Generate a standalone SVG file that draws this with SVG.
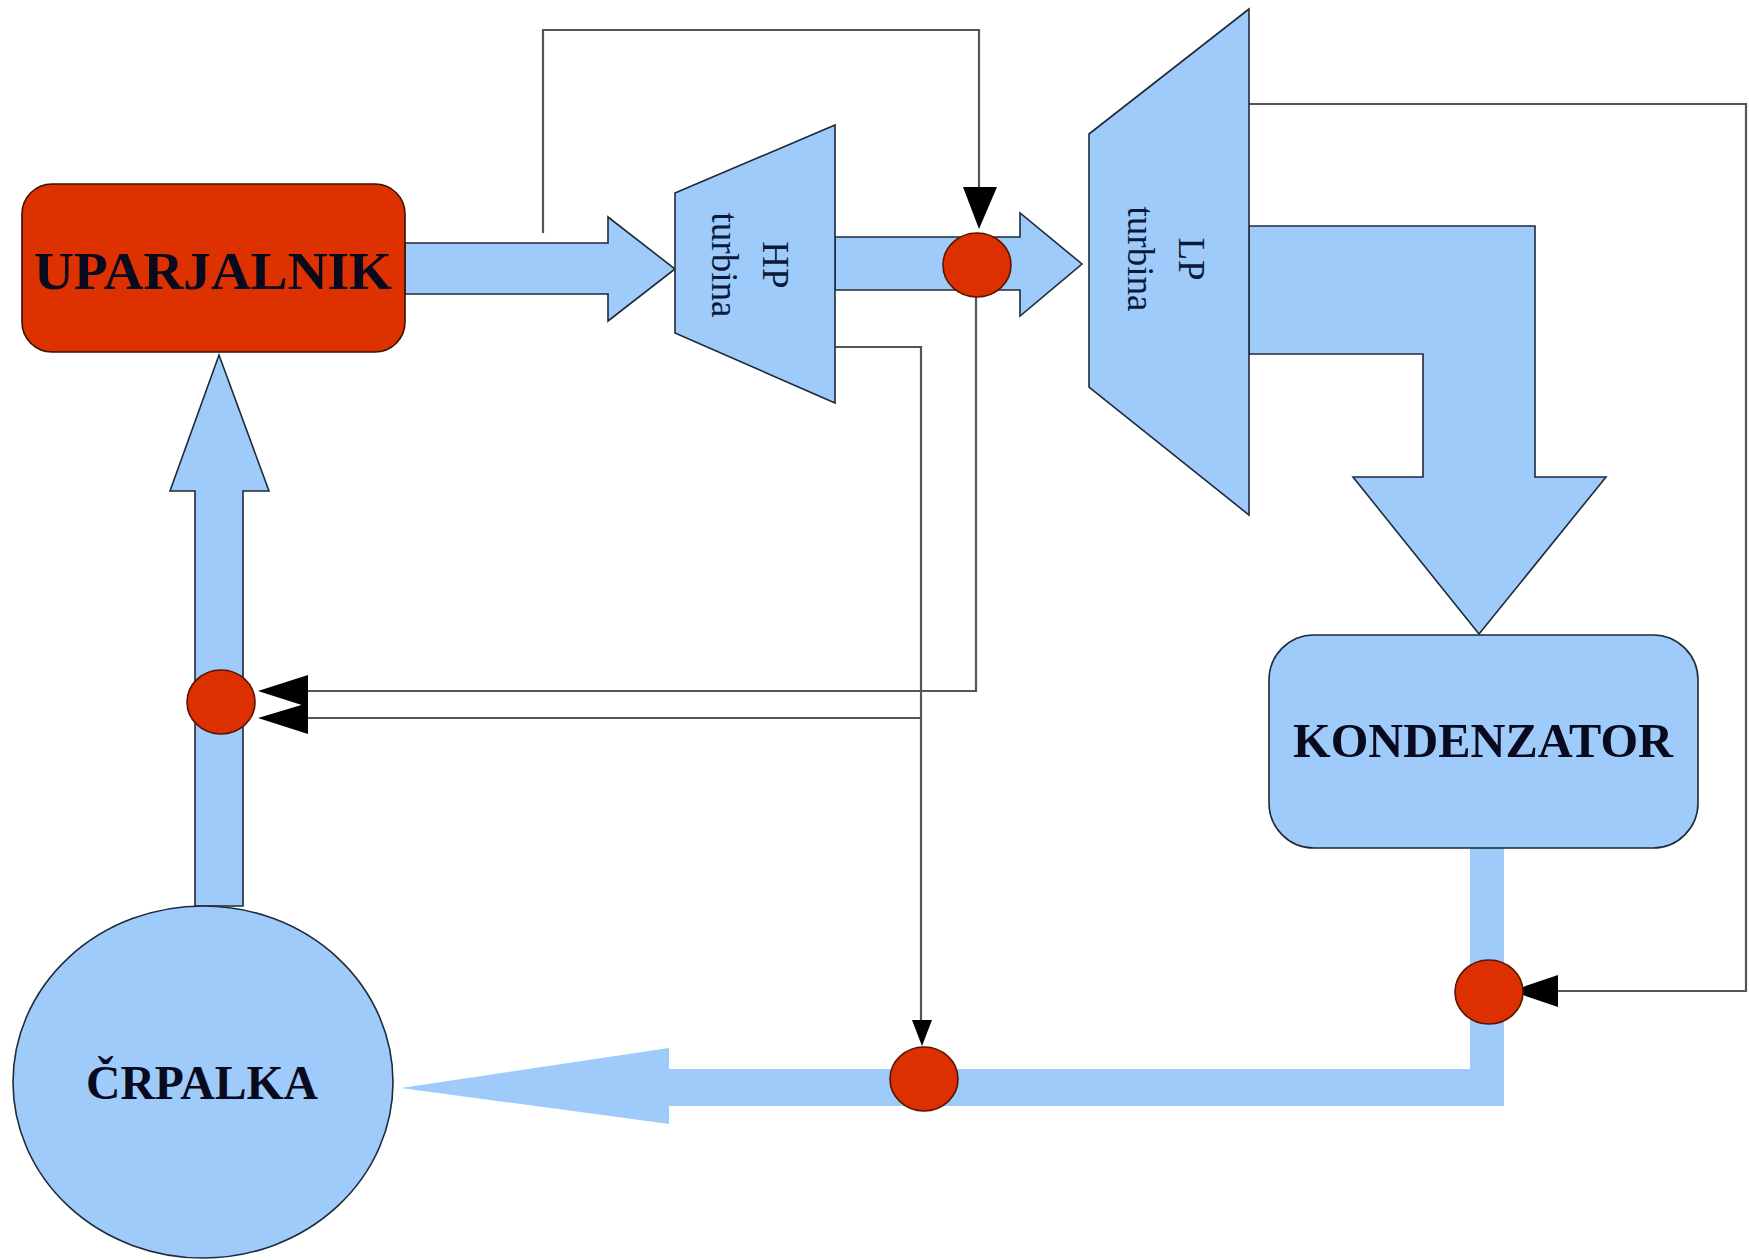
<svg xmlns="http://www.w3.org/2000/svg" width="1749" height="1260" viewBox="0 0 1749 1260">
<style>
.pipe{fill:#9fcbfa;stroke:#1e2a3a;stroke-width:1.6;stroke-linejoin:miter}
.pipe-n{fill:#9fcbfa;stroke:none}
.valve{fill:#dd3000;stroke:#5a1400;stroke-width:1.6}
.line{fill:none;stroke:#555;stroke-width:2.2}
.head{fill:#000;stroke:none}
.lbl{font-family:"Liberation Serif","DejaVu Serif",serif;font-weight:bold;fill:#0a0a1e;text-anchor:middle}
.tlbl{font-family:"Liberation Serif","DejaVu Serif",serif;font-size:37px;fill:#0a1a3a;text-anchor:middle;dominant-baseline:central}
</style>
<rect width="1749" height="1260" fill="#ffffff"/>
<g id="connectors">
  <path class="pipe" d="M405,243 H608 V217 L675,269 L608,321 V294 H405 Z"/>
  <path class="pipe" d="M835,237 H1020 V213 L1082,264 L1020,316 V290 H835 Z"/>
  <path class="pipe" d="M1249,226 H1535 V477 H1606 L1479,634 L1353,477 H1423 V354 H1249 Z"/>
  <path class="pipe" d="M195,906 V491 H170 L219,355 L269,491 H243 V906 Z"/>
  <path class="pipe-n" d="M1470,848 H1504 V1106 H669 V1124 L401,1088 L669,1048 V1069 H1470 Z"/>
  <polyline class="line" points="543,233 543,30 979,30 979,200"/>
  <polyline class="line" points="976,297 976,691 300,691"/>
  <polyline class="line" points="835,347 921,347 921,1030"/>
  <polyline class="line" points="921,718 300,718"/>
  <polyline class="line" points="1249,104 1746,104 1746,991 1550,991"/>
  <polygon class="head" points="963,187 997,187 979,229"/>
  <polygon class="head" points="308,675 308,707 258,691"/>
  <polygon class="head" points="308,703 308,734 258,718"/>
  <polygon class="head" points="912,1020 932,1020 922,1046"/>
  <polygon class="head" points="1558,975 1558,1007 1511,991"/>
</g>
<g id="uparjalnik">
  <rect x="22" y="184" width="383" height="168" rx="30" fill="#dd3100" stroke="#3a1000" stroke-width="1.6"/>
  <text class="lbl" x="213" y="289" font-size="52" textLength="358" lengthAdjust="spacingAndGlyphs">UPARJALNIK</text>
</g>
<g id="hp-turbina">
  <polygon class="pipe" points="675,193 835,125 835,403 675,333"/>
  <text class="tlbl" transform="translate(775,265) rotate(90)">HP</text>
  <text class="tlbl" transform="translate(724,265) rotate(90)">turbina</text>
</g>
<g id="lp-turbina">
  <polygon class="pipe" points="1089,134 1249,9 1249,515 1089,387"/>
  <text class="tlbl" transform="translate(1191,259) rotate(90)">LP</text>
  <text class="tlbl" transform="translate(1140,259) rotate(90)">turbina</text>
</g>
<g id="kondenzator">
  <rect x="1269" y="635" width="429" height="213" rx="45" fill="#9fcbfa" stroke="#1e2a3a" stroke-width="1.6"/>
  <text class="lbl" x="1483" y="757" font-size="48" textLength="380" lengthAdjust="spacingAndGlyphs">KONDENZATOR</text>
</g>
<g id="crpalka">
  <ellipse cx="203" cy="1082" rx="190" ry="176" fill="#9fcbfa" stroke="#1e2a3a" stroke-width="1.6"/>
  <text class="lbl" x="202" y="1099" font-size="48" textLength="232" lengthAdjust="spacingAndGlyphs">ČRPALKA</text>
</g>
<g id="valve-hp-out">
  <ellipse class="valve" cx="977" cy="265" rx="34" ry="32"/>
</g>
<g id="valve-feed">
  <ellipse class="valve" cx="221" cy="702" rx="34" ry="32"/>
</g>
<g id="valve-bottom">
  <ellipse class="valve" cx="924" cy="1079" rx="34" ry="32"/>
</g>
<g id="valve-cond">
  <ellipse class="valve" cx="1489" cy="992" rx="34" ry="32"/>
</g>
</svg>
